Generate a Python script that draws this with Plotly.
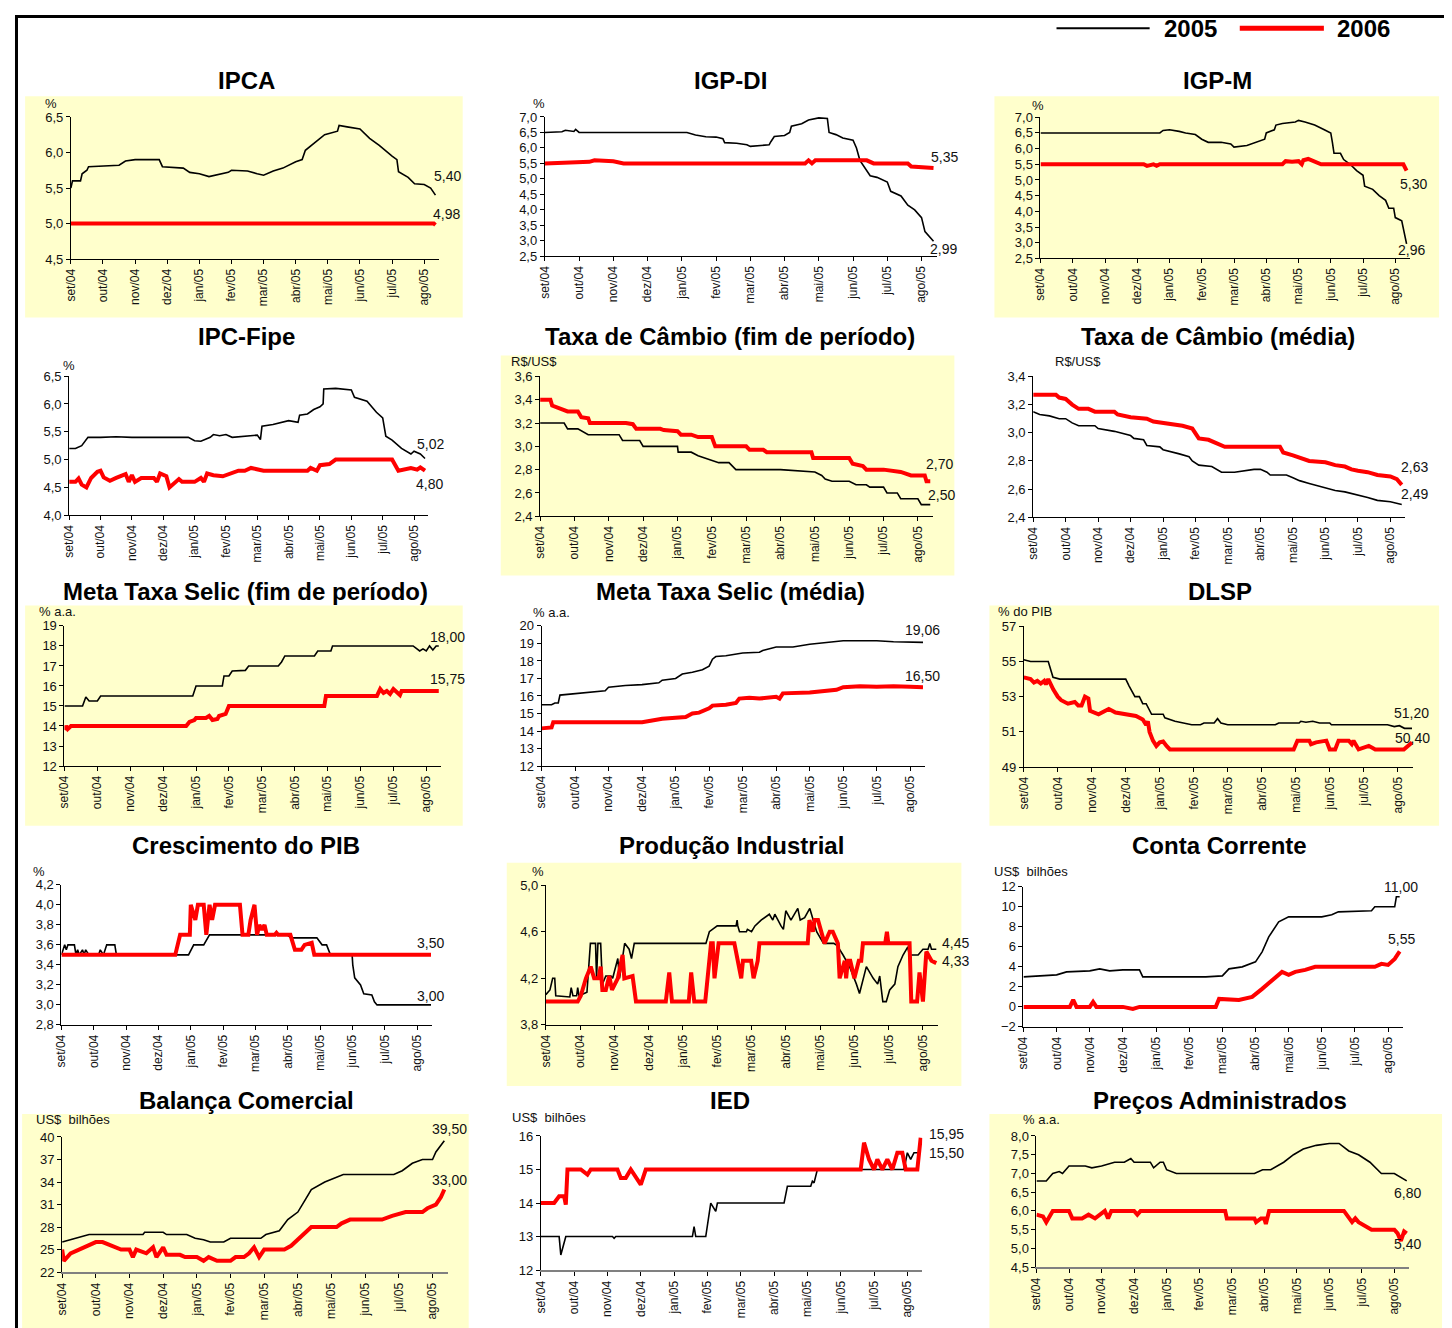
import plotly.graph_objects as go

# a captura da pagina desloca (~15px) e reduz um pouco a figura: compensa aqui
OFF = 15
SX, SY = 0.9938, 0.988
W, H = 1446, 1329

months = ["set/04", "out/04", "nov/04", "dez/04", "jan/05", "fev/05",
          "mar/05", "abr/05", "mai/05", "jun/05", "jul/05", "ago/05"]

# (mes, valor) -- mes 0 = set/04, 11 = ago/05
ipca_2005 = [(0, 5.5), (0.05, 5.6), (0.3, 5.6), (0.35, 5.7), (0.5, 5.75), (0.55, 5.8), (1.5, 5.82),
             (1.7, 5.88), (2.0, 5.9), (2.75, 5.9), (2.85, 5.8), (3.5, 5.78), (3.7, 5.72), (4.0, 5.7),
             (4.3, 5.66), (4.5, 5.68), (4.6, 5.7), (4.9, 5.72), (5.0, 5.75), (5.5, 5.74), (5.8, 5.7),
             (6.0, 5.68), (6.3, 5.74), (6.6, 5.78), (7.0, 5.87), (7.2, 5.9), (7.3, 6.03), (7.5, 6.1),
             (7.9, 6.25), (8.3, 6.3), (8.35, 6.38), (8.6, 6.36), (9.0, 6.33), (9.3, 6.2), (9.6, 6.1),
             (10.0, 5.95), (10.15, 5.9), (10.2, 5.73), (10.5, 5.65), (10.7, 5.56), (11.0, 5.55),
             (11.2, 5.5), (11.35, 5.4)]
ipca_2006 = [(0, 5.0), (11.3, 5.0), (11.35, 4.98)]

igpdi_2005 = [(0, 6.5), (0.5, 6.52), (0.6, 6.57), (0.85, 6.53), (0.9, 6.6), (1.0, 6.5), (4.15, 6.5),
              (4.4, 6.42), (4.7, 6.36), (5.0, 6.35), (5.2, 6.3), (5.25, 6.17), (5.6, 6.15), (5.9, 6.1),
              (6.0, 6.05), (6.5, 6.08), (6.55, 6.1), (6.6, 6.2), (6.7, 6.37), (7.0, 6.4), (7.15, 6.5),
              (7.2, 6.7), (7.5, 6.78), (7.7, 6.9), (8.0, 6.97), (8.25, 6.95), (8.3, 6.5), (8.5, 6.43),
              (8.7, 6.32), (9.0, 6.25), (9.1, 6.0), (9.2, 5.6), (9.5, 5.1), (9.7, 5.05), (10.0, 4.9),
              (10.1, 4.6), (10.4, 4.45), (10.6, 4.15), (10.8, 4.0), (11.0, 3.75), (11.1, 3.3), (11.35, 2.99)]
igpdi_2006 = [(0, 5.5), (1.3, 5.55), (1.45, 5.6), (2.0, 5.57), (2.3, 5.5), (7.6, 5.5), (7.7, 5.6),
              (7.8, 5.5), (7.9, 5.6), (9.4, 5.6), (9.6, 5.5), (10.6, 5.5), (10.7, 5.4), (11.35, 5.35)]

igpm_2005 = [(0, 6.5), (3.7, 6.5), (3.8, 6.58), (4.0, 6.6), (4.3, 6.55), (4.5, 6.5), (4.8, 6.45),
             (5.0, 6.3), (5.2, 6.2), (5.6, 6.2), (5.9, 6.15), (6.0, 6.05), (6.4, 6.1), (6.7, 6.2),
             (6.95, 6.3), (7.0, 6.5), (7.25, 6.6), (7.3, 6.75), (7.5, 6.8), (7.9, 6.85), (8.0, 6.9),
             (8.2, 6.85), (8.5, 6.75), (8.8, 6.6), (9.0, 6.5), (9.05, 6.2), (9.1, 5.85), (9.3, 5.85),
             (9.4, 5.65), (9.6, 5.5), (9.8, 5.3), (10.0, 5.15), (10.05, 4.8), (10.3, 4.7), (10.5, 4.5),
             (10.7, 4.35), (10.8, 4.1), (10.95, 4.1), (11.0, 3.8), (11.2, 3.7), (11.35, 2.96)]
igpm_2006 = [(0, 5.5), (3.2, 5.5), (3.3, 5.45), (3.5, 5.5), (3.6, 5.45), (3.7, 5.5), (7.5, 5.5),
             (7.6, 5.6), (7.8, 5.58), (8.0, 5.6), (8.1, 5.5), (8.15, 5.63), (8.3, 5.67), (8.6, 5.55),
             (8.7, 5.5), (11.25, 5.5), (11.35, 5.3)]

fipe_2005 = [(0, 5.2), (0.2, 5.2), (0.4, 5.25), (0.6, 5.4), (1.0, 5.4), (1.5, 5.41), (2.0, 5.4),
             (3.8, 5.4), (4.0, 5.34), (4.2, 5.33), (4.5, 5.4), (4.6, 5.45), (4.8, 5.43), (5.0, 5.45),
             (5.2, 5.4), (5.5, 5.42), (6.0, 5.44), (6.1, 5.36), (6.15, 5.6), (6.5, 5.63), (7.0, 5.7),
             (7.3, 5.67), (7.35, 5.8), (7.6, 5.82), (7.8, 5.9), (8.0, 5.95), (8.1, 6.0), (8.12, 6.27),
             (8.5, 6.28), (9.0, 6.25), (9.1, 6.12), (9.5, 6.05), (9.8, 5.85), (10.0, 5.75), (10.1, 5.42),
             (10.3, 5.35), (10.6, 5.2), (10.9, 5.1), (11.0, 5.15), (11.2, 5.1), (11.35, 5.02)]
fipe_2006 = [(0, 4.6), (0.2, 4.6), (0.3, 4.66), (0.4, 4.55), (0.55, 4.5), (0.7, 4.67), (0.9, 4.78),
             (1.0, 4.8), (1.1, 4.68), (1.3, 4.62), (1.5, 4.67), (1.8, 4.74), (1.9, 4.6), (2.0, 4.72),
             (2.1, 4.6), (2.3, 4.67), (2.7, 4.67), (2.8, 4.6), (2.9, 4.75), (3.1, 4.7), (3.2, 4.5),
             (3.5, 4.65), (3.6, 4.6), (4.0, 4.6), (4.2, 4.67), (4.3, 4.6), (4.4, 4.75), (4.6, 4.72),
             (4.9, 4.7), (5.2, 4.75), (5.4, 4.8), (5.6, 4.8), (5.8, 4.85), (6.2, 4.8), (7.6, 4.8),
             (7.7, 4.85), (7.9, 4.8), (8.0, 4.9), (8.3, 4.92), (8.5, 5.0), (10.3, 5.0), (10.5, 4.8),
             (10.7, 4.82), (10.9, 4.85), (11.1, 4.82), (11.2, 4.86), (11.35, 4.8)]

cambio_fim_2005 = [(0, 3.2), (0.7, 3.2), (0.8, 3.15), (1.1, 3.15), (1.4, 3.1), (2.3, 3.1), (2.4, 3.05),
                   (2.9, 3.05), (3.0, 3.0), (4.0, 3.0), (4.02, 2.95), (4.4, 2.95), (4.6, 2.92),
                   (4.8, 2.9), (5.0, 2.88), (5.2, 2.86), (5.5, 2.86), (5.6, 2.83), (5.7, 2.8), (7.0, 2.8),
                   (8.0, 2.78), (8.2, 2.75), (8.3, 2.72), (8.5, 2.7), (9.0, 2.7), (9.2, 2.67), (9.5, 2.67),
                   (9.6, 2.65), (10.0, 2.65), (10.1, 2.6), (10.4, 2.6), (10.5, 2.55), (11.0, 2.55),
                   (11.1, 2.5), (11.36, 2.5)]
cambio_fim_2006 = [(0, 3.4), (0.3, 3.4), (0.35, 3.35), (0.6, 3.32), (0.8, 3.3), (1.1, 3.3), (1.2, 3.25),
                   (1.4, 3.24), (1.45, 3.2), (2.5, 3.2), (2.7, 3.19), (2.8, 3.15), (3.5, 3.15),
                   (3.6, 3.14), (4.0, 3.13), (4.1, 3.1), (4.4, 3.1), (4.6, 3.08), (5.0, 3.08), (5.1, 3.0),
                   (6.0, 3.0), (6.1, 2.97), (6.5, 2.97), (6.6, 2.95), (7.9, 2.95), (7.95, 2.9), (9.0, 2.9),
                   (9.1, 2.85), (9.4, 2.83), (9.5, 2.8), (10.0, 2.8), (10.5, 2.78), (10.8, 2.75),
                   (11.2, 2.75), (11.25, 2.7), (11.36, 2.7)]

cambio_med_2005 = [(0, 3.15), (0.2, 3.13), (0.5, 3.12), (0.8, 3.1), (1.0, 3.1), (1.2, 3.07), (1.4, 3.05),
                   (1.9, 3.05), (2.0, 3.03), (2.5, 3.01), (3.0, 2.98), (3.1, 2.96), (3.4, 2.95),
                   (3.5, 2.91), (3.9, 2.9), (4.0, 2.88), (4.5, 2.85), (4.8, 2.83), (4.9, 2.8), (5.1, 2.77),
                   (5.5, 2.76), (5.8, 2.72), (6.2, 2.72), (6.5, 2.73), (6.8, 2.74), (7.0, 2.74),
                   (7.2, 2.72), (7.3, 2.7), (7.8, 2.7), (8.0, 2.68), (8.2, 2.66), (8.5, 2.64), (8.8, 2.62),
                   (9.0, 2.61), (9.3, 2.59), (9.6, 2.58), (10.0, 2.56), (10.3, 2.54), (10.6, 2.52),
                   (11.0, 2.51), (11.35, 2.49)]
cambio_med_2006 = [(0, 3.27), (0.7, 3.27), (0.8, 3.25), (1.0, 3.24), (1.2, 3.2), (1.4, 3.17), (1.7, 3.17),
                   (1.9, 3.15), (2.5, 3.15), (2.6, 3.13), (3.0, 3.11), (3.5, 3.1), (3.7, 3.08), (4.0, 3.07),
                   (4.3, 3.06), (4.6, 3.05), (4.9, 3.03), (5.0, 3.0), (5.1, 2.96), (5.4, 2.95), (5.7, 2.92),
                   (5.9, 2.9), (7.6, 2.9), (7.7, 2.86), (8.0, 2.84), (8.3, 2.82), (8.5, 2.8), (9.0, 2.79),
                   (9.3, 2.77), (9.6, 2.76), (9.8, 2.74), (10.0, 2.73), (10.3, 2.72), (10.6, 2.7),
                   (11.0, 2.69), (11.2, 2.67), (11.35, 2.63)]

selic_fim_2005 = [(0, 15.0), (0.55, 15.0), (0.65, 15.45), (0.75, 15.25), (1.0, 15.25), (1.1, 15.5),
                  (3.9, 15.5), (4.0, 16.0), (4.8, 16.0), (4.85, 16.5), (5.0, 16.5), (5.1, 16.75),
                  (5.5, 16.78), (5.6, 17.0), (6.5, 17.0), (6.6, 17.2), (6.7, 17.5), (7.6, 17.5),
                  (7.7, 17.75), (8.1, 17.75), (8.15, 18.0), (10.6, 18.0), (10.8, 17.75), (10.9, 17.85),
                  (11.0, 17.75), (11.1, 18.0), (11.2, 17.8), (11.3, 18.0), (11.38, 18.0)]
selic_fim_2006 = [(0, 13.8), (0.05, 14.0), (0.1, 13.85), (0.2, 14.0), (3.7, 14.0), (3.8, 14.2),
                  (3.95, 14.3), (4.0, 14.4), (4.3, 14.4), (4.4, 14.5), (4.5, 14.3), (4.65, 14.35),
                  (4.7, 14.5), (4.9, 14.6), (5.0, 15.0), (7.9, 15.0), (7.95, 15.5), (9.5, 15.5),
                  (9.6, 15.85), (9.7, 15.65), (9.8, 15.75), (9.9, 15.6), (10.0, 15.85), (10.1, 15.7),
                  (10.2, 15.55), (10.25, 15.75), (11.38, 15.75)]

selic_med_2005 = [(0, 15.5), (0.3, 15.5), (0.4, 15.6), (0.5, 15.6), (0.55, 16.05), (1.0, 16.12),
                  (1.5, 16.2), (1.9, 16.3), (2.0, 16.5), (2.5, 16.6), (3.0, 16.65), (3.5, 16.75),
                  (3.6, 16.9), (4.0, 17.0), (4.2, 17.25), (4.5, 17.35), (4.8, 17.5), (5.0, 17.7),
                  (5.1, 18.1), (5.2, 18.25), (5.5, 18.3), (6.0, 18.45), (6.5, 18.5), (6.6, 18.6),
                  (7.0, 18.8), (7.5, 18.8), (8.0, 18.95), (8.5, 19.05), (9.0, 19.15), (9.5, 19.15),
                  (10.0, 19.15), (10.5, 19.1), (11.0, 19.08), (11.38, 19.06)]
selic_med_2006 = [(0, 14.15), (0.3, 14.2), (0.35, 14.5), (3.0, 14.5), (3.3, 14.6), (3.6, 14.7),
                  (4.0, 14.75), (4.3, 14.8), (4.5, 15.0), (4.7, 15.05), (5.0, 15.3), (5.1, 15.45),
                  (5.5, 15.5), (5.8, 15.6), (5.9, 15.85), (6.2, 15.9), (6.5, 15.85), (7.0, 15.95),
                  (7.1, 15.85), (7.2, 16.15), (8.0, 16.2), (8.5, 16.3), (8.8, 16.35), (9.0, 16.5),
                  (9.5, 16.55), (10.0, 16.52), (10.5, 16.55), (11.0, 16.52), (11.38, 16.5)]

dlsp_2005 = [(0, 55.1), (0.2, 55.0), (0.72, 55.0), (0.86, 54.1), (1.06, 54.0), (3.0, 54.0), (3.1, 53.6),
             (3.27, 53.0), (3.4, 53.0), (3.5, 52.6), (3.6, 52.6), (3.76, 52.0), (4.1, 52.0),
             (4.15, 51.8), (4.45, 51.6), (4.94, 51.4), (5.2, 51.4), (5.3, 51.5), (5.6, 51.5),
             (5.7, 51.75), (5.8, 51.5), (6.0, 51.4), (7.4, 51.4), (7.5, 51.5), (8.1, 51.5), (8.15, 51.6),
             (8.3, 51.55), (8.5, 51.6), (8.7, 51.5), (9.0, 51.5), (9.05, 51.4), (10.7, 51.4),
             (10.9, 51.3), (11.05, 51.35), (11.2, 51.2), (11.42, 51.2)]
dlsp_2006 = [(0, 54.1), (0.2, 54.0), (0.3, 53.8), (0.4, 53.9), (0.5, 53.75), (0.6, 53.9), (0.65, 53.7),
             (0.72, 54.0), (0.87, 53.4), (1.0, 53.0), (1.1, 52.8), (1.3, 52.6), (1.5, 52.7), (1.6, 52.5),
             (1.7, 52.5), (1.8, 53.0), (1.9, 52.9), (1.95, 52.2), (2.2, 52.0), (2.5, 52.3), (2.7, 52.1),
             (3.0, 52.0), (3.3, 51.9), (3.5, 51.7), (3.6, 51.4), (3.65, 51.6), (3.7, 51.0), (3.8, 50.5),
             (3.9, 50.2), (4.0, 50.4), (4.1, 50.45), (4.2, 50.2), (4.3, 50.0), (7.94, 50.0),
             (8.05, 50.5), (8.4, 50.5), (8.45, 50.3), (8.6, 50.4), (8.9, 50.5), (9.0, 50.0),
             (9.16, 50.0), (9.26, 50.5), (9.56, 50.5), (9.65, 50.3), (9.7, 50.5), (9.85, 50.0),
             (10.05, 50.1), (10.15, 50.2), (10.25, 50.1), (10.34, 50.0), (11.18, 50.0), (11.42, 50.4)]

pib_2005 = [(0, 3.5), (0.05, 3.55), (0.1, 3.6), (0.15, 3.55), (0.2, 3.6), (0.4, 3.6), (0.45, 3.5),
            (0.5, 3.55), (0.55, 3.5), (0.65, 3.55), (0.7, 3.5), (0.75, 3.55), (0.85, 3.5), (1.15, 3.5),
            (1.2, 3.55), (1.3, 3.5), (1.4, 3.6), (1.65, 3.6), (1.7, 3.5), (3.93, 3.5), (4.09, 3.6),
            (4.4, 3.6), (4.58, 3.7), (6.98, 3.7), (7.1, 3.67), (7.9, 3.67), (8.06, 3.6), (8.2, 3.6),
            (8.32, 3.5), (8.99, 3.5), (9.01, 3.4), (9.07, 3.27), (9.25, 3.2), (9.35, 3.11), (9.6, 3.1),
            (9.68, 3.03), (9.76, 3.0), (11.43, 3.0)]
pib_2006 = [(0, 3.5), (3.52, 3.5), (3.67, 3.7), (3.97, 3.7), (4.0, 4.0), (4.08, 3.9), (4.14, 3.85),
            (4.22, 4.0), (4.4, 4.0), (4.48, 3.7), (4.58, 4.0), (4.66, 3.85), (4.75, 4.0), (5.52, 4.0),
            (5.6, 3.7), (5.78, 3.7), (5.85, 3.85), (5.97, 4.0), (6.05, 3.7), (6.12, 3.8), (6.2, 3.75),
            (6.28, 3.8), (6.35, 3.7), (6.6, 3.7), (6.65, 3.72), (6.7, 3.7), (7.08, 3.7), (7.22, 3.55),
            (7.42, 3.55), (7.52, 3.6), (7.74, 3.62), (7.82, 3.5), (11.43, 3.5)]

prod_2005 = [(0, 4.06), (0.12, 4.1), (0.2, 4.2), (0.26, 4.2), (0.29, 4.05), (0.7, 4.04), (0.74, 4.12),
             (0.79, 4.05), (0.9, 4.05), (0.93, 4.12), (0.97, 4.05), (1.2, 4.08), (1.3, 4.5), (1.45, 4.5),
             (1.48, 4.2), (1.52, 4.5), (1.6, 4.5), (1.65, 4.15), (1.75, 4.22), (1.9, 4.22), (1.95, 4.2),
             (2.1, 4.37), (2.15, 4.2), (2.3, 4.5), (2.43, 4.45), (2.5, 4.37), (2.58, 4.5), (4.67, 4.5),
             (4.77, 4.6), (5.0, 4.65), (5.55, 4.65), (5.58, 4.7), (5.6, 4.65), (5.65, 4.6), (5.85, 4.6),
             (5.88, 4.62), (6.0, 4.6), (6.1, 4.65), (6.28, 4.7), (6.52, 4.75), (6.62, 4.7), (6.68, 4.75),
             (6.86, 4.65), (6.93, 4.62), (7.0, 4.78), (7.15, 4.7), (7.35, 4.8), (7.42, 4.7), (7.55, 4.72),
             (7.7, 4.8), (7.9, 4.6), (8.0, 4.55), (8.1, 4.5), (8.4, 4.5), (8.5, 4.48), (8.67, 4.4),
             (8.86, 4.3), (9.06, 4.15), (9.15, 4.07), (9.35, 4.3), (9.55, 4.2), (9.68, 4.15),
             (9.74, 4.22), (9.83, 4.0), (9.93, 4.0), (10.03, 4.1), (10.18, 4.15), (10.27, 4.3),
             (10.42, 4.4), (10.56, 4.47), (10.6, 4.4), (10.86, 4.4), (11.0, 4.45), (11.15, 4.45),
             (11.2, 4.5), (11.25, 4.45), (11.39, 4.45)]
prod_2006 = [(0, 4.0), (0.93, 4.0), (1.02, 4.05), (1.17, 4.2), (1.31, 4.3), (1.41, 4.2), (1.54, 4.2),
             (1.6, 4.3), (1.65, 4.1), (1.75, 4.1), (1.85, 4.22), (1.93, 4.1), (2.1, 4.2), (2.24, 4.4),
             (2.29, 4.2), (2.53, 4.22), (2.63, 4.0), (3.5, 4.0), (3.6, 4.25), (3.68, 4.0), (4.17, 4.0),
             (4.24, 4.25), (4.33, 4.0), (4.65, 4.0), (4.82, 4.5), (4.87, 4.5), (4.92, 4.2), (5.04, 4.5),
             (5.5, 4.5), (5.6, 4.35), (5.7, 4.2), (5.75, 4.35), (5.99, 4.35), (6.06, 4.2), (6.18, 4.35),
             (6.23, 4.5), (7.64, 4.5), (7.69, 4.7), (7.79, 4.6), (7.84, 4.7), (7.94, 4.7), (8.13, 4.5),
             (8.28, 4.6), (8.37, 4.6), (8.52, 4.5), (8.57, 4.2), (8.72, 4.35), (8.76, 4.2), (8.81, 4.35),
             (8.88, 4.35), (9.0, 4.2), (9.13, 4.35), (9.2, 4.35), (9.25, 4.5), (9.9, 4.5), (9.95, 4.6),
             (9.99, 4.5), (10.61, 4.5), (10.66, 4.0), (10.83, 4.0), (10.9, 4.25), (11.0, 4.0),
             (11.1, 4.43), (11.25, 4.35), (11.39, 4.33)]

conta_2005 = [(0, 3.0), (1.0, 3.2), (1.3, 3.5), (2.0, 3.6), (2.3, 3.8), (2.6, 3.6), (3.0, 3.7), (3.5, 3.7),
              (3.6, 3.0), (5.5, 3.0), (6.0, 3.1), (6.2, 3.8), (6.6, 4.0), (7.0, 4.5), (7.2, 5.5),
              (7.4, 7.0), (7.7, 8.5), (8.0, 9.0), (9.0, 9.0), (9.3, 9.2), (9.5, 9.5), (10.5, 9.6),
              (10.6, 10.0), (11.2, 10.0), (11.25, 11.0), (11.35, 11.0)]
conta_2006 = [(0, 0.0), (1.4, 0.0), (1.5, 0.7), (1.6, 0.0), (2.0, 0.0), (2.1, 0.5), (2.2, 0.0), (3.0, 0.0),
              (3.3, -0.2), (3.5, 0.0), (5.8, 0.0), (5.9, 0.8), (6.5, 0.7), (6.9, 1.0), (7.2, 1.8),
              (7.5, 2.6), (7.8, 3.5), (8.0, 3.2), (8.2, 3.5), (8.5, 3.7), (8.8, 4.0), (10.6, 4.0),
              (10.8, 4.3), (11.0, 4.2), (11.2, 4.8), (11.35, 5.55)]

balanca_2005 = [(0, 26.0), (0.2, 26.3), (0.4, 26.5), (0.8, 27.0), (2.4, 27.0), (2.45, 27.3), (3.0, 27.3),
                (3.1, 27.0), (3.7, 27.0), (3.95, 26.5), (4.2, 26.3), (4.4, 26.0), (4.8, 26.0),
                (5.0, 26.5), (5.9, 26.5), (6.05, 27.0), (6.45, 27.5), (6.7, 29.0), (7.0, 30.0),
                (7.2, 31.5), (7.4, 33.0), (7.8, 34.0), (8.35, 35.0), (9.85, 35.0), (10.1, 35.5),
                (10.4, 36.5), (10.7, 37.0), (11.0, 37.0), (11.1, 38.0), (11.35, 39.5)]
balanca_2006 = [(0, 25.0), (0.05, 23.5), (0.25, 24.5), (0.5, 25.0), (0.8, 25.5), (1.0, 26.0), (1.2, 26.0),
                (1.5, 25.5), (1.75, 25.0), (2.0, 25.0), (2.1, 24.0), (2.2, 25.0), (2.5, 24.5),
                (2.7, 25.3), (2.8, 24.0), (3.0, 25.3), (3.1, 24.3), (3.5, 24.3), (3.65, 24.0),
                (4.0, 24.0), (4.2, 23.5), (4.35, 24.0), (4.6, 23.5), (5.0, 23.5), (5.15, 24.0),
                (5.4, 24.0), (5.55, 24.5), (5.7, 25.3), (5.85, 24.0), (6.0, 25.0), (6.6, 25.0),
                (6.8, 25.5), (7.05, 26.5), (7.4, 28.0), (8.15, 28.0), (8.3, 28.5), (8.55, 29.0),
                (9.5, 29.0), (9.8, 29.5), (10.2, 30.0), (10.7, 30.0), (10.85, 30.5), (11.1, 31.0),
                (11.25, 32.0), (11.35, 33.0)]

ied_2005 = [(0, 13.0), (0.55, 13.0), (0.6, 12.45), (0.75, 13.0), (2.15, 13.0), (2.2, 12.95), (2.25, 13.0),
            (4.55, 13.0), (4.6, 13.3), (4.65, 13.0), (4.95, 13.0), (5.0, 13.3), (5.1, 14.0),
            (5.25, 13.75), (5.3, 14.0), (7.3, 14.0), (7.4, 14.5), (8.1, 14.5), (8.15, 14.65),
            (8.2, 14.6), (8.3, 15.0), (10.9, 15.0), (11.0, 15.5), (11.1, 15.3), (11.2, 15.5), (11.4, 15.5)]
ied_2006 = [(0, 14.0), (0.4, 14.0), (0.55, 14.2), (0.7, 14.2), (0.75, 13.95), (0.8, 15.0), (1.2, 15.0),
            (1.4, 14.85), (1.5, 15.0), (2.3, 15.0), (2.4, 14.75), (2.55, 14.75), (2.7, 15.0),
            (2.85, 14.8), (3.0, 14.55), (3.15, 15.0), (9.6, 15.0), (9.7, 15.8), (9.85, 15.3),
            (10.0, 15.0), (10.1, 15.3), (10.25, 15.0), (10.4, 15.3), (10.55, 15.0), (10.7, 15.5),
            (10.85, 15.5), (10.95, 15.0), (11.3, 15.0), (11.4, 15.95)]

precos_2005 = [(0, 6.8), (0.3, 6.8), (0.5, 7.0), (0.7, 7.05), (0.8, 7.0), (1.0, 7.2), (1.5, 7.2),
               (1.7, 7.15), (2.0, 7.2), (2.2, 7.25), (2.4, 7.3), (2.7, 7.3), (2.9, 7.4), (3.0, 7.3),
               (3.5, 7.3), (3.6, 7.15), (3.8, 7.3), (3.9, 7.3), (4.0, 7.1), (4.3, 7.0), (6.7, 7.0),
               (6.95, 7.1), (7.2, 7.1), (7.6, 7.3), (7.9, 7.5), (8.2, 7.65), (8.6, 7.75), (9.0, 7.8),
               (9.3, 7.8), (9.6, 7.6), (9.9, 7.5), (10.25, 7.3), (10.6, 7.0), (11.0, 7.0), (11.2, 6.9),
               (11.38, 6.8)]
precos_2006 = [(0, 5.9), (0.2, 5.85), (0.3, 5.7), (0.5, 6.0), (1.0, 6.0), (1.1, 5.8), (1.4, 5.8),
               (1.6, 5.9), (1.8, 5.8), (2.0, 5.95), (2.1, 6.0), (2.2, 5.8), (2.3, 6.0), (3.0, 6.0),
               (3.1, 5.9), (3.2, 6.0), (5.8, 6.0), (5.85, 5.8), (6.7, 5.8), (6.75, 5.7), (6.9, 5.8),
               (7.0, 5.8), (7.05, 5.65), (7.15, 6.0), (9.45, 6.0), (9.7, 5.7), (9.8, 5.8), (9.9, 5.7),
               (10.3, 5.5), (11.0, 5.5), (11.1, 5.4), (11.2, 5.2), (11.3, 5.45), (11.38, 5.4)]

# titulo, unidade, serie 2005, serie 2006, eixo y (min, max, passo, formato)
panels = [
    ("IPCA", "%", ipca_2005, ipca_2006, (4.5, 6.5, 0.5, ".1f")),
    ("IGP-DI", "%", igpdi_2005, igpdi_2006, (2.5, 7.0, 0.5, ".1f")),
    ("IGP-M", "%", igpm_2005, igpm_2006, (2.5, 7.0, 0.5, ".1f")),
    ("IPC-Fipe", "%", fipe_2005, fipe_2006, (4.0, 6.5, 0.5, ".1f")),
    ("Taxa de Câmbio (fim de período)", "R$/US$", cambio_fim_2005, cambio_fim_2006, (2.4, 3.6, 0.2, ".1f")),
    ("Taxa de Câmbio (média)", "R$/US$", cambio_med_2005, cambio_med_2006, (2.4, 3.4, 0.2, ".1f")),
    ("Meta Taxa Selic (fim de período)", "% a.a.", selic_fim_2005, selic_fim_2006, (12, 19, 1, "d")),
    ("Meta Taxa Selic (média)", "% a.a.", selic_med_2005, selic_med_2006, (12, 20, 1, "d")),
    ("DLSP", "% do PIB", dlsp_2005, dlsp_2006, (49, 57, 2, "d")),
    ("Crescimento do PIB", "%", pib_2005, pib_2006, (2.8, 4.2, 0.2, ".1f")),
    ("Produção Industrial", "%", prod_2005, prod_2006, (3.8, 5.0, 0.4, ".1f")),
    ("Conta Corrente", "US$  bilhões", conta_2005, conta_2006, (-2, 12, 2, "d")),
    ("Balança Comercial", "US$  bilhões", balanca_2005, balanca_2006, (22, 40, 3, "d")),
    ("IED", "US$  bilhões", ied_2005, ied_2006, (12, 16, 1, "d")),
    ("Preços Administrados", "% a.a.", precos_2005, precos_2006, (4.5, 8.0, 0.5, ".1f")),
]

# posicao em pixels da imagem: eixo (esq, dir, topo, base), fundo (x0, x1, y0, y1), titulo (x, y), unidade (x, y)
boxes = [
    ((70.7, 438, 116.7, 258.7), (25, 462, 96, 317), (246, 80), (43, 103)),
    ((544, 935.6, 116.7, 256), None, (729, 80), (530, 103)),
    ((1039, 1407.8, 117, 258), (993, 1437, 96, 317), (1216, 80), (1029, 105)),
    ((69, 427.5, 375.7, 514.7), None, (246, 336), (61, 365)),
    ((539.3, 932, 376, 515.7), (500, 953, 355, 575), (729, 336), (508, 361)),
    ((1031.7, 1403, 376, 516.7), None, (1216, 336), (1051, 361)),
    ((64.3, 440.4, 625.3, 765.3), (25, 462, 605, 825), (245, 591), (37, 611)),
    ((540.7, 924, 625.3, 765.3), None, (729, 591), (530, 612)),
    ((1022.3, 1411, 625.7, 766.3), (988, 1437, 605, 825), (1218, 591), (995, 611)),
    ((61.3, 431, 884, 1024), None, (246, 845), (31, 871)),
    ((545, 937, 884.3, 1024), (506, 960, 862, 1085), (730, 845), (529, 871)),
    ((1022, 1401, 886, 1026), None, (1218, 845), (991, 871)),
    ((62, 447, 1136, 1271), (22, 468, 1113, 1345), (246, 1100), (34, 1119)),
    ((540, 921, 1135, 1269), None, (729, 1100), (509, 1117)),
    ((1035, 1407, 1135, 1266), (988, 1440, 1113, 1345), (1218, 1100), (1020, 1119)),
]

# deslocamento dos rotulos finais (dx, dy) em pixels: 2005, 2006
end_offsets = [
    ((12, -19), (11, -11)), ((10, 8), (11, -11)), ((5, 6), (7, 13)),
    ((5, -14), (4, 13)), ((11, -10), (9, -17)), ((13, -11), (13, -18)),
    ((9, -9), (9, -12)), ((0, -12), (0, -11)), ((0, -15), (1, -4)),
    ((-1, -9), (-1, -12)), ((19, -6), (19, -2)), ((1, -10), (2, -12)),
    ((5, -12), (5, -10)), ((26, 0), (26, -4)), ((1, 12), (1, 11)),
]

FONT = "Arial, Liberation Sans, sans-serif"
YELLOW = "#FFFFCC"
X_END = 11.45


def fx(x):
    return x / SX - OFF


def fy(y):
    return y / SY - OFF


def px(x):
    return fx(x) / W


def py(y):
    return 1 - fy(y) / H


def fmt(v):
    return f"{v:.2f}".replace(".", ",")


fig = go.Figure()
shapes = []
annotations = []
layout_axes = {}

for i, (title, unit, s05, s06, yinfo) in enumerate(panels):
    n = i + 1
    sfx = "" if n == 1 else str(n)
    (l, r, t, b), bg, tpos, upos = boxes[i]
    ymin, ymax, dt, tf = yinfo
    bottom_row = i >= 12

    if bg is not None:
        shapes.append(dict(type="rect", xref="paper", yref="paper", layer="below",
                           x0=px(bg[0]), x1=px(bg[1]), y0=py(bg[3]), y1=py(bg[2]),
                           fillcolor=YELLOW, line=dict(width=0)))

    layout_axes["xaxis" + sfx] = dict(
        domain=[px(l), px(r)], anchor="y" + sfx, range=[0, X_END],
        tickvals=list(range(12)), ticktext=months, tickangle=-90,
        tickfont=dict(family=FONT, size=12, color="#111"),
        showline=True, linecolor="#808080" if bottom_row else "black",
        linewidth=2 if bottom_row else 1,
        ticks="outside", ticklen=4, tickcolor="black", showgrid=False, zeroline=False)
    layout_axes["yaxis" + sfx] = dict(
        domain=[py(b), py(t)], anchor="x" + sfx, range=[ymin, ymax],
        tick0=ymin, dtick=dt, tickformat=tf,
        tickfont=dict(family=FONT, size=13, color="#111"),
        showline=True, linecolor="black", linewidth=1,
        ticks="outside", ticklen=4, tickcolor="black", showgrid=False, zeroline=False)

    # preta primeiro, vermelha por cima
    for series, color, width, off in ((s05, "black", 1.6, end_offsets[i][0]),
                                      (s06, "#FF0000", 4, end_offsets[i][1])):
        xs = [p[0] for p in series]
        ys = [p[1] for p in series]
        fig.add_trace(go.Scatter(x=xs, y=ys, mode="lines", xaxis="x" + sfx, yaxis="y" + sfx,
                                 line=dict(color=color, width=width), showlegend=False,
                                 hoverinfo="skip"))
        annotations.append(dict(x=xs[-1], y=ys[-1], xref="x" + sfx, yref="y" + sfx,
                                text=fmt(ys[-1]), showarrow=False, xanchor="center",
                                yanchor="middle", xshift=off[0], yshift=-off[1],
                                font=dict(family=FONT, size=14, color="#111")))

    annotations.append(dict(x=px(tpos[0]), y=py(tpos[1]), xref="paper", yref="paper",
                            text=title, showarrow=False, xanchor="center", yanchor="middle",
                            font=dict(family=FONT, size=24, color="black", weight="bold")))
    annotations.append(dict(x=px(upos[0]), y=py(upos[1]), xref="paper", yref="paper",
                            text=unit, showarrow=False, xanchor="left", yanchor="middle",
                            font=dict(family=FONT, size=13, color="#111")))

# legenda do topo
shapes.append(dict(type="line", xref="paper", yref="paper", x0=px(1055), x1=px(1148),
                   y0=py(28), y1=py(28), line=dict(color="black", width=2)))
shapes.append(dict(type="line", xref="paper", yref="paper", x0=px(1238), x1=px(1322),
                   y0=py(28), y1=py(28), line=dict(color="#FF0000", width=5)))
for label, xc in (("2005", 1189), ("2006", 1362)):
    annotations.append(dict(x=px(xc), y=py(28), xref="paper", yref="paper", text=label,
                            showarrow=False, xanchor="center", yanchor="middle",
                            font=dict(family=FONT, size=24, color="black", weight="bold")))

# moldura (lados de cima e da esquerda ficam no limite da area visivel)
shapes.append(dict(type="rect", xref="paper", yref="paper", x0=1.5 / W, x1=px(1446),
                   y0=py(1345), y1=1 - 1.5 / H, line=dict(color="black", width=3)))

fig.update_layout(
    width=W, height=H,
    margin=dict(l=0, r=0, t=0, b=0),
    paper_bgcolor="white", plot_bgcolor="rgba(0,0,0,0)",
    separators=",.",
    showlegend=False,
    shapes=shapes, annotations=annotations,
    **layout_axes,
)

fig.write_html("out.html")
